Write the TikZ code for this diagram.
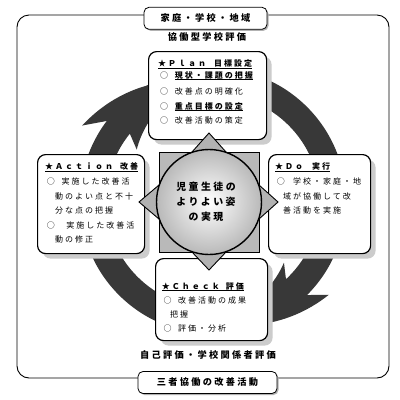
\documentclass[tikz,border=0pt]{standalone}
\usepackage{fontspec}
\newfontfamily\jp[LetterSpace=25]{Noto Sans CJK JP}
\usetikzlibrary{shadows}
\newcommand\myul[1]{\setbox0\hbox{#1}\rlap{\rule[-2.3pt]{\wd0}{0.9pt}}\box0}
\tikzset{
 box/.style={draw, line width=1.2pt, rounded corners=8pt, fill=white, inner sep=0pt, anchor=north west,
   drop shadow={shadow xshift=5pt, shadow yshift=-5pt, fill=gray!40, opacity=1}},
 lbl/.style={draw, line width=0.8pt, rounded corners=5pt, fill=white, inner sep=0pt, minimum height=22pt,
   font=\jp\bfseries\fontsize{9.2}{9.2}\selectfont,
   drop shadow={shadow xshift=1.5pt, shadow yshift=-1.5pt, fill=gray!60, opacity=1}},
 captext/.style={inner sep=0pt, font=\jp\bfseries\fontsize{9.2}{9.2}\selectfont},
 ln/.style={anchor=base west, inner sep=0pt, font=\jp\fontsize{8}{8}\selectfont},
 ttl/.style={anchor=base west, inner sep=0pt, font=\jp\bfseries\fontsize{8}{8}\selectfont},
 ringc/.style={fill=black!78},
 tri/.style={fill=gray!60, draw=black, line width=0.9pt, line join=miter},
}
\begin{document}
\begin{tikzpicture}[x=1pt,y=-1pt]
\fill[white] (0,0) rectangle (400,400);
\useasboundingbox (0,0) rectangle (400,400);
% outer frame
\draw[line width=0.9pt, rounded corners=12pt] (17,15) rectangle (389,378);
\node[lbl, minimum width=123pt] (home) at (205.5,18.3) {家庭・学校・地域};
\node[lbl, minimum width=139pt] (three) at (207.5,382.5) {三者協働の改善活動};
\node[captext] (coop) at (207,37) {協働型学校評価};
\node[captext] (self) at (208,355) {自己評価・学校関係者評価};
% ring
\coordinate (C) at (213,201);
\fill[ringc, even odd rule] (C) circle[radius=133] (C) circle[radius=107];
\begin{scope}[shift={(C)}]
\fill[ringc] (217:133) -- (210:151) -- plot[domain=210:262, samples=27] (\x:{151-31*(\x-210)/52})
  -- plot[domain=262:214, samples=25] (\x:{120-28*(262-\x)/48}) -- (219:107) -- cycle;
\fill[ringc] (45:133) -- (39:149) -- plot[domain=39:90, samples=27] (\x:{149-29*(\x-39)/51})
  -- plot[domain=90:41, samples=25] (\x:{120-26*(90-\x)/49}) -- (47:107) -- cycle;
\end{scope}
% boxes
\node[box, minimum width=118pt, minimum height=88pt] (plan) at (148,51) {};
\node[box, minimum width=107pt, minimum height=99pt] (act) at (37,154) {};
\node[box, minimum width=102pt, minimum height=99pt] (do) at (268,154) {};
\node[box, minimum width=112pt, minimum height=82pt] (chk) at (155,258) {};
% plan text
\node[ttl] (p0) at (158,66.5) {\myul{★Ｐｌａｎ\hspace{8pt}目標設定}};
\node[ln] (p1) at (160,78) {○\hspace{6.7pt}\myul{\bfseries 現状・課題の把握}};
\node[ln] (p2) at (160,94) {○\hspace{6.7pt}改善点の明確化};
\node[ln] (p3) at (160,109) {○\hspace{6.7pt}\myul{\bfseries 重点目標の設定}};
\node[ln] (p4) at (160,123) {○\hspace{6.7pt}改善活動の策定};
% action text
\node[ttl] (a0) at (45,169.7) {\myul{★Ａｃｔｉｏｎ\hspace{7pt}改善}};
\node[ln] (a1) at (46.7,184.7) {○\hspace{6.7pt}実施した改善活};
\node[ln] (a2) at (55,199) {動のよい点と不十};
\node[ln] (a3) at (55,213) {分な点の把握};
\node[ln] (a4) at (46.7,228) {○\hspace{11.6pt}実施した改善活};
\node[ln] (a5) at (55,242.3) {動の修正};
% do text
\node[ttl] (d0) at (275,169.7) {\myul{★Ｄｏ\hspace{9pt}実行}};
\node[ln] (d1) at (276.7,184.7) {○\hspace{8.3pt}学校・家庭・地};
\node[ln] (d2) at (283,199) {域が協働して改};
\node[ln] (d3) at (283,213) {善活動を実施};
% check text
\node[ttl] (c0) at (161.7,289) {\myul{★Ｃｈｅｃｋ\hspace{6pt}評価}};
\node[ln] (c1) at (163.3,303) {○\hspace{6.7pt}改善活動の成果};
\node[ln] (c2) at (170,317) {把握};
\node[ln] (c3) at (163.3,331) {○\hspace{6.7pt}評価・分析};
% centre graphic
\coordinate (O) at (209,202);
\node[draw, fill=gray!55, line width=0.9pt, minimum size=100pt, inner sep=0pt] (sq) at (O) {};
\begin{scope}[shift={(O)}]
\filldraw[tri] (-50,-17) -- (-70,0) -- (-50,17) -- cycle;
\filldraw[tri] (50,-17) -- (69,0) -- (50,17) -- cycle;
\filldraw[tri] (-17,-50) -- (0,-69) -- (17,-50) -- cycle;
\filldraw[tri] (-17,50) -- (0,68) -- (17,50) -- cycle;
\end{scope}
\node[circle, draw, line width=1.4pt, minimum size=105pt, inner sep=0pt, inner color=white, outer color=gray!55] (ball) at (O) {};
\node[align=center, inner sep=0pt, font=\jp\bfseries\fontsize{9.9}{15}\selectfont] (goal) at (206,202) {児童生徒の\\よりよい姿\\の実現};
\end{tikzpicture}
\end{document}
